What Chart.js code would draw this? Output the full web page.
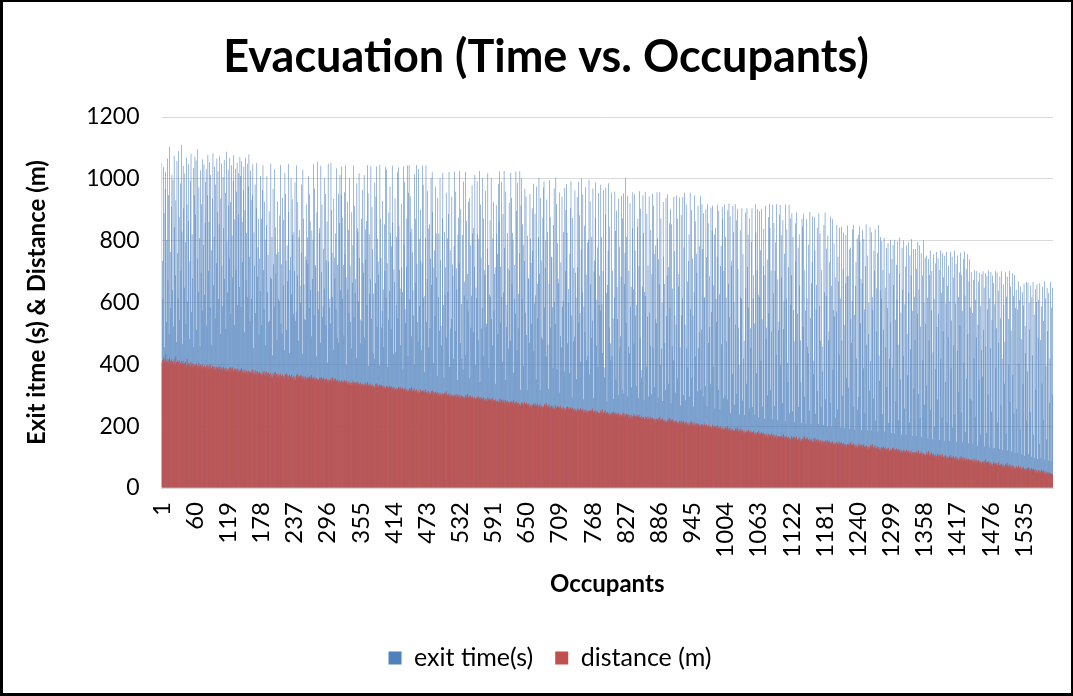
<!DOCTYPE html>
<html>
<head>
<meta charset="utf-8">
<script src="https://cdn.jsdelivr.net/npm/chart.js@4.4.1/dist/chart.umd.min.js"></script>
<style>
  html, body { margin: 0; padding: 0; background: #fff; }
  #wrap { position: relative; width: 1073px; height: 696px; }
  #frame { position: absolute; left: 0; top: 0; width: 1073px; height: 696px; box-sizing: border-box;
           border: 2px solid #000; border-left-width: 3px; border-bottom-width: 3px; pointer-events: none; }
  canvas { display: block; }
</style>
</head>
<body>
<div id="wrap">
  <canvas id="chart" width="1073" height="696"></canvas>
  <div id="frame"></div>
</div>
<script>
// Texts
const chartTitle = 'Evacuation (Time vs. Occupants)';
const xTitle = 'Occupants';
const yTitle = 'Exit itme (s) & Distance (m)';
const seriesNames = ['exit time(s)', 'distance (m)'];

// Value axis and category labelling
const yMin = 0, yMax = 1200, yStep = 200;
const labelEvery = 59;

// Exit time per occupant (s)
const exitTime = [
1052,734,612,1038,889,455,967,1021,538,802,1066,671,948,497,1104,763,582,910,1013,640,
997,522,1075,843,688,931,472,1058,759,614,1089,876,543,985,701,1110,829,466,1042,905,
648,1017,795,531,1069,917,603,864,1046,482,733,992,1081,569,821,678,1035,456,947,1072,
884,1059,512,742,1096,635,973,808,459,1028,697,918,1063,574,786,1047,625,859,990,1031,
526,947,1078,703,861,1054,584,1012,769,463,935,1083,656,813,1040,549,982,727,1066,892,
1024,611,853,1073,498,936,1050,719,588,1006,841,1061,677,954,515,1088,798,632,1029,914,
742,1067,924,563,1044,817,681,993,1076,527,869,1033,706,958,1052,592,885,1018,650,1071,
1009,586,1057,861,731,963,1040,504,898,1068,672,825,1049,617,976,1079,748,541,1026,932,
612,948,1047,453,827,719,982,566,905,1051,684,779,871,498,742,637,1009,871,527,963,
1044,705,578,926,803,462,851,1008,633,754,537,895,541,682,1049,676,812,429,967,724,
587,1031,843,694,756,478,927,763,612,605,881,1045,532,724,498,940,655,868,446,1019,
951,736,512,784,669,1048,893,437,705,747,1002,626,934,818,562,827,703,989,541,571,
1043,687,925,476,811,835,654,598,762,982,433,1029,871,658,546,749,543,917,738,810,
725,1008,582,950,863,641,491,833,676,803,1047,559,969,721,714,426,892,1055,637,578,
826,841,470,1042,699,917,553,588,774,1003,645,951,527,737,862,406,1049,733,584,612,
532,1051,898,761,619,447,935,745,680,823,577,1034,486,721,952,469,856,1012,640,947,
1039,612,874,721,493,957,758,1044,681,398,926,642,835,567,1003,719,537,451,892,664,
785,1043,552,912,631,677,420,986,840,829,603,1018,744,468,545,871,539,964,727,696,
1012,487,836,739,864,592,1044,953,395,821,628,675,1041,547,908,773,435,629,418,987,
663,942,1040,521,807,733,689,396,1045,870,744,519,572,928,642,456,853,701,1038,615,
1030,727,391,544,891,638,975,826,514,782,1043,859,433,707,666,936,439,593,812,1021,
548,1037,847,705,645,462,919,713,634,381,1041,788,990,579,534,716,872,1043,427,955,
1044,610,943,827,491,839,762,640,558,398,1016,871,664,1045,725,537,473,1032,806,589,
899,735,447,726,1042,981,615,374,622,808,1044,537,676,961,839,455,853,517,742,1003,
657,1021,893,404,713,768,556,974,824,681,362,939,618,822,509,1002,737,525,461,871,
1019,592,356,828,625,713,955,487,808,634,887,1022,391,769,516,547,942,723,685,418,
783,1024,508,958,711,642,349,820,874,726,1025,469,903,595,417,818,382,991,623,667,
1023,430,864,609,692,571,925,937,355,785,518,622,979,824,503,841,716,1012,398,648,
614,991,822,478,806,1025,343,917,745,516,583,1003,872,427,704,689,961,521,532,775,
1018,721,388,625,866,619,1003,547,462,808,924,571,692,714,337,915,822,756,498,983,
861,1024,535,716,990,619,408,887,633,1025,776,349,959,521,592,824,710,451,923,704,
477,1020,938,659,825,803,372,612,721,564,1024,896,445,987,517,628,759,1025,318,914,
1002,612,853,787,395,734,968,568,942,495,317,816,679,675,470,951,806,728,531,905,
768,984,442,597,887,623,351,975,661,549,812,1003,693,316,938,737,489,481,874,972,
991,584,712,801,425,933,828,464,320,661,996,877,519,748,745,585,388,851,969,602,
531,1004,918,385,792,677,663,309,956,492,729,455,943,586,606,828,377,970,701,898,
983,826,467,599,644,371,758,906,992,558,293,873,474,712,489,962,696,615,352,941,
715,990,535,882,566,408,771,1001,632,949,286,587,848,504,973,690,415,794,428,803,
997,368,927,659,485,813,542,969,292,700,736,873,988,461,609,778,391,954,593,687,
574,981,812,595,437,701,963,390,358,883,972,631,280,657,767,986,519,846,467,414,
956,427,703,548,288,615,959,832,351,897,650,547,302,936,779,458,491,684,944,318,
872,953,305,661,760,1003,534,812,297,945,458,703,436,921,586,651,325,839,957,642,
467,949,768,558,329,593,844,871,292,717,960,486,903,355,382,651,947,826,285,634,
958,621,392,887,554,719,296,943,568,460,835,304,691,952,452,913,757,327,784,546,
534,957,808,293,740,659,957,399,872,451,598,281,925,749,660,468,317,938,556,687,
949,337,715,856,582,903,274,853,458,645,413,941,766,558,309,528,946,871,355,652,
692,940,455,267,883,558,614,941,301,778,955,529,284,917,452,668,389,734,820,295,
955,578,899,356,742,557,264,635,946,862,425,758,697,313,913,452,504,781,944,318,
512,918,773,296,889,617,615,330,902,746,265,918,856,469,685,520,337,907,569,833,
914,392,657,819,258,842,611,538,749,916,318,896,627,255,718,783,465,909,872,291,
703,917,298,813,615,475,286,898,661,920,552,879,242,718,734,369,912,827,601,269,
919,529,866,304,903,709,518,398,238,834,617,612,905,283,757,419,476,236,891,648,
337,905,716,819,584,257,872,517,453,796,905,262,613,688,532,235,918,827,371,704,
902,625,228,895,618,769,412,903,546,263,717,838,224,689,912,483,518,739,299,876,
566,919,842,318,704,505,222,916,629,857,265,702,794,431,918,219,675,511,538,884,
915,397,681,818,275,867,514,603,758,216,917,612,836,405,342,714,916,241,872,593,
689,889,248,812,576,475,213,856,733,892,396,564,777,262,821,655,478,344,210,871,
846,521,887,295,704,574,208,869,613,458,436,787,250,893,549,208,662,731,878,367,
412,876,768,240,577,657,842,314,207,888,589,823,476,261,705,377,458,204,851,633,
891,287,621,774,199,817,478,506,730,276,877,654,198,869,383,576,791,555,682,226,
571,851,255,748,668,432,842,613,196,846,477,298,708,826,527,193,662,818,357,684,
849,686,324,772,190,778,547,469,605,836,263,851,560,188,654,731,419,807,253,819,
294,846,797,533,677,188,662,834,387,805,577,241,718,853,464,186,752,497,598,315,
843,411,186,827,618,576,289,768,702,837,218,506,646,761,183,850,428,347,640,812,
612,798,239,705,512,809,183,648,455,776,327,582,792,210,695,418,803,536,178,741,
389,786,657,176,803,544,281,722,609,797,463,219,694,810,351,568,173,777,641,428,
801,257,594,716,172,784,498,365,795,631,211,752,449,688,805,167,573,772,322,619,
478,773,168,708,563,796,304,642,785,227,522,759,164,687,412,801,598,269,745,531,
752,331,615,160,741,477,689,768,253,574,702,158,439,755,611,198,727,384,763,521,
286,743,562,706,155,768,419,631,228,759,507,682,153,751,344,597,764,212,653,488,
719,152,604,763,387,542,748,195,681,461,768,237,596,725,150,443,752,618,311,697,
527,761,244,689,573,148,741,406,765,622,182,708,353,756,497,145,669,739,289,584,
698,283,566,142,673,419,704,231,609,487,702,137,528,667,351,696,172,589,446,691,
361,701,512,648,134,695,458,179,686,577,303,704,132,614,452,699,247,543,687,128,
663,129,594,702,388,517,697,213,638,471,126,684,549,267,701,418,123,658,592,337,
473,698,176,619,684,121,547,399,703,278,652,509,118,694,366,621,241,689,114,582,
641,256,577,112,668,403,609,189,651,482,108,633,337,590,661,104,524,437,667,218,
377,664,109,598,513,247,655,101,617,429,666,172,561,97,643,318,602,659,94,486,
608,143,662,479,96,587,338,651,221,540,669,92,613,394,157,647,508,89,631,276,
419,666,87,584,302,648
];

// Distance per occupant (m)
const distance = [
406,414,409,421,413,404,418,431,408,412,407,417,402,414,420,405,411,415,401,409,
410,401,416,404,398,425,407,403,412,400,408,413,397,405,402,410,395,404,411,399,
404,396,408,400,393,418,399,395,405,397,402,391,407,398,394,403,389,401,396,394,
400,392,403,390,397,387,405,394,390,398,385,395,400,388,392,384,397,389,387,394,
396,389,398,386,394,384,401,390,388,381,396,391,385,393,383,390,382,392,386,388,
392,383,395,386,381,391,384,389,379,387,393,382,386,378,389,380,387,376,384,380,
388,380,391,378,386,375,389,382,376,386,379,384,373,382,387,376,383,372,380,375,
383,376,388,374,379,370,384,373,380,368,381,375,377,366,380,372,376,369,374,371,
380,372,384,369,376,366,381,370,375,364,378,368,373,363,376,367,371,361,370,366,
376,369,379,365,372,362,377,366,371,359,374,364,368,357,372,362,366,356,369,361,
372,364,375,360,368,366,357,370,361,365,354,369,360,363,352,367,358,361,351,364,
368,360,371,356,364,362,353,367,357,361,350,365,356,359,348,363,354,357,347,361,
366,359,368,355,363,360,354,365,358,361,352,363,356,359,350,361,354,357,349,356,
359,354,356,361,352,358,365,355,351,357,353,360,350,354,346,356,349,352,344,350,
352,357,354,347,359,351,353,348,356,350,345,352,349,355,343,347,350,341,348,344,
349,355,345,352,358,348,343,351,346,354,344,347,340,350,345,341,348,339,343,337,
348,340,346,343,337,349,341,344,339,347,335,342,338,345,333,341,336,340,331,338,
347,341,336,340,343,337,342,333,339,345,336,334,338,331,341,335,329,337,332,330,
337,332,334,339,330,336,343,333,329,335,331,338,328,332,324,334,327,330,322,328,
336,329,338,325,333,330,324,335,328,331,322,333,326,329,320,331,324,327,319,326,
330,322,328,325,319,331,323,326,321,329,317,324,320,327,315,323,318,322,313,320,
321,326,323,316,328,320,322,317,325,319,314,321,318,324,312,316,319,310,317,313,
317,323,313,320,326,316,311,319,314,322,312,315,308,318,313,309,316,307,311,305,
320,314,309,313,316,310,315,306,312,318,309,307,311,304,314,308,302,310,305,303,
313,306,315,302,310,307,301,312,305,308,299,310,303,306,297,308,301,304,296,303,
306,301,303,308,299,305,312,302,298,304,300,307,297,301,293,303,296,299,291,297,
303,295,301,298,292,304,296,299,294,302,290,297,293,300,288,296,291,295,286,293,
295,301,291,298,304,294,289,297,292,300,290,293,286,296,291,287,294,285,289,283,
290,295,292,285,297,289,291,286,294,288,283,290,287,293,281,285,288,279,286,282,
293,287,282,286,289,283,288,279,285,291,282,280,284,277,287,281,275,283,278,276,
287,280,289,276,284,281,275,286,279,282,273,284,277,280,271,282,275,278,270,277,
279,274,276,281,272,278,285,275,271,277,273,280,270,274,266,276,269,272,264,270,
277,269,275,272,266,278,270,273,268,276,264,271,267,274,262,270,265,269,260,267,
268,273,270,263,275,267,269,264,272,266,261,268,265,271,259,263,266,257,264,260,
265,271,261,268,274,264,259,267,262,270,260,263,256,266,261,257,264,255,259,253,
268,262,257,261,264,258,263,254,260,266,257,255,259,252,262,256,250,258,253,251,
262,255,264,251,259,256,250,261,254,257,248,259,252,255,246,257,250,253,245,252,
257,249,255,252,246,258,250,253,248,256,244,251,247,254,242,250,245,249,240,247,
251,246,248,253,244,250,257,247,243,249,245,252,242,246,238,248,241,244,236,242,
245,251,241,248,254,244,239,247,242,250,240,243,236,246,241,237,244,235,239,233,
240,245,242,235,247,239,241,236,244,238,233,240,237,243,231,235,238,229,236,232,
241,234,243,230,238,235,229,240,233,236,227,238,231,234,225,236,229,232,224,231,
239,233,228,232,235,229,234,225,231,237,228,226,230,223,233,227,221,229,224,222,
231,223,229,226,220,232,224,227,222,230,218,225,221,228,216,224,219,223,214,221,
224,219,221,226,217,223,230,220,216,222,218,225,215,219,211,221,214,217,209,215,
218,224,214,221,227,217,212,220,215,223,213,216,209,219,214,210,217,208,212,206,
212,217,214,207,219,211,213,208,216,210,205,212,209,215,203,207,210,201,208,204,
213,206,215,202,210,207,201,212,205,208,199,210,203,206,197,208,201,204,196,203,
207,199,205,202,196,208,200,203,198,206,194,201,197,204,192,200,195,199,190,197,
205,199,194,198,201,195,200,191,197,203,194,192,196,189,199,193,187,195,190,188,
194,189,191,196,187,193,200,190,186,192,188,195,185,189,181,191,184,187,179,185,
187,193,183,190,196,186,181,189,184,192,182,185,178,188,183,179,186,177,181,175,
181,186,183,176,188,180,182,177,185,179,174,181,178,184,172,176,179,170,177,173,
181,174,183,170,178,175,169,180,173,176,167,178,171,174,165,176,169,172,164,171,
175,167,173,170,164,176,168,171,166,174,162,169,165,172,160,168,163,167,158,165,
168,163,165,170,161,167,174,164,160,166,162,169,159,163,155,165,158,161,153,159,
169,163,158,162,165,159,164,155,161,167,158,156,160,153,163,157,151,159,154,152,
158,164,154,161,167,157,152,160,155,163,153,156,149,159,154,150,157,148,152,146,
159,152,161,148,156,153,147,158,151,154,145,156,149,152,143,154,147,150,142,149,
148,153,150,143,155,147,149,144,152,146,141,148,145,151,139,143,146,137,144,140,
149,141,147,144,138,150,142,145,140,148,136,143,139,146,134,142,137,141,132,139,
143,138,140,145,136,142,149,139,135,141,137,144,134,138,130,140,133,136,128,134,
144,138,133,137,140,134,139,130,136,142,133,131,135,128,138,132,126,134,129,127,
133,139,129,136,142,132,127,135,130,138,128,131,124,134,129,125,132,123,127,121,
127,132,129,122,134,126,128,123,131,125,120,127,124,130,118,122,125,116,123,119,
129,122,131,118,126,123,117,128,121,124,115,126,119,122,113,124,117,120,112,119,
123,115,121,118,112,124,116,119,114,122,110,117,113,120,108,116,111,115,106,113,
116,111,113,118,109,115,122,112,108,114,110,117,107,111,103,113,106,109,101,107,
110,116,106,113,119,109,104,112,107,115,105,108,101,111,106,102,109,100,104,98,
112,106,101,105,108,102,107,98,104,110,101,99,103,96,106,100,94,102,97,95,
99,104,101,94,106,98,100,95,103,97,92,99,96,102,90,94,97,88,95,91,
100,93,102,89,97,94,88,99,92,95,86,97,90,93,84,95,88,91,83,90,
93,85,91,88,82,94,86,89,84,92,80,87,83,90,78,86,81,85,76,83,
86,81,83,88,79,85,92,82,78,84,80,87,77,81,73,83,76,79,71,77,
85,79,74,78,81,75,80,71,77,83,74,72,76,69,79,73,67,75,70,68,
72,78,68,75,81,71,66,74,69,77,67,70,63,73,68,64,71,62,66,60,
65,70,67,60,72,64,66,61,69,63,58,65,62,68,56,60,63,54,61,57,
65,58,67,54,62,59,53,64,57,60,51,62,55,58,49,60,53,56,48,55,
58,50,56,53,47,59,51,54,49,57,45,52,48,55,43,51,46,50,41,48,
49,45,47,44,46,42
];

// Occupant numbers used as categories
const occupants = distance.map((_, i) => i + 1);

const FONT = 'Lato, "Open Sans", "DejaVu Sans", sans-serif';
Chart.defaults.font.family = FONT;
Chart.defaults.color = '#000';

// Small layout adjustments for title and legend centring
const nudge = {
  id: 'nudge',
  afterLayout(chart) {
    chart.legend.left += 12; chart.legend.right += 12;
    chart.titleBlock.left += 8; chart.titleBlock.right += 8;
  }
};

new Chart(document.getElementById('chart'), {
  type: 'bar',
  data: {
    labels: occupants,
    datasets: [
      { label: seriesNames[0], data: exitTime, backgroundColor: '#4F81BD', order: 1,
        grouped: false, barPercentage: 1, categoryPercentage: 1, borderWidth: 0, inflateAmount: 0 },
      { label: seriesNames[1], data: distance, backgroundColor: '#C0504D', order: 0,
        grouped: false, barPercentage: 1, categoryPercentage: 1, borderWidth: 0, inflateAmount: 0.12 }
    ]
  },
  options: {
    responsive: false,
    animation: false,
    devicePixelRatio: 1,
    events: [],
    layout: { padding: { left: 23, right: 20, top: 8, bottom: 15.5 } },
    plugins: {
      title: { display: true, text: chartTitle, font: { size: 45, weight: 'bold' },
               padding: { top: 22, bottom: 33 } },
      legend: { position: 'bottom',
                labels: { boxWidth: 13, boxHeight: 13, padding: 22, font: { size: 25 },
                          sort: (a, b) => a.datasetIndex - b.datasetIndex } },
      tooltip: { enabled: false }
    },
    scales: {
      x: {
        grid: { display: false, drawTicks: false },
        border: { display: true, color: '#d9d9d9', width: 1 },
        ticks: { autoSkip: false, minRotation: 90, maxRotation: 90, padding: 14,
                 font: { size: 24 },
                 callback: (v, i) => (i % labelEvery === 0 ? String(occupants[i]) : null) },
        title: { display: true, text: xTitle, font: { size: 24, weight: 'bold' },
                 padding: { top: 0, bottom: 25 } },
        afterFit: s => { s.height = 135.5; }
      },
      y: {
        min: yMin, max: yMax,
        grid: { color: '#d9d9d9', drawTicks: false },
        border: { display: false },
        ticks: { stepSize: yStep, padding: 22, font: { size: 23 }, callback: v => String(v) },
        title: { display: true, text: yTitle, font: { size: 24, weight: 'bold' },
                 padding: { top: 0, bottom: 0 } },
        afterFit: s => { s.width = 138.5; }
      }
    }
  },
  plugins: [nudge]
});
</script>
</body>
</html>
